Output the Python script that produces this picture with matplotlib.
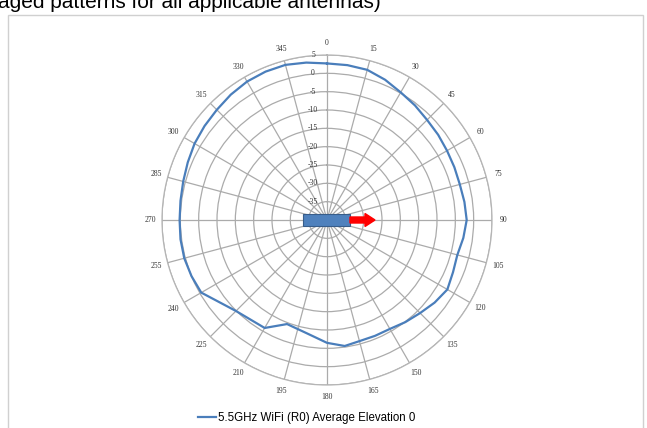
import numpy as np
import matplotlib
matplotlib.use("Agg")
import matplotlib.pyplot as plt
from matplotlib.patches import Rectangle, FancyArrow

# Pattern data (azimuth in degrees, gain in dB)
azimuth = [0, 7.5, 15, 22.5, 30, 37.5, 45, 52.5, 60, 67.5, 75, 82.5, 90, 97.5,
           105, 112.5, 120, 127.5, 135, 142.5, 150, 157.5, 165, 172, 180, 190,
           201, 210, 225, 240, 247.5, 255, 262.5, 270, 277.5, 285, 292.5, 300,
           307.5, 315, 322.5, 330, 337.5, 345, 352.5]
gain_db = [2.7, 2.6, 2.4, 1.4, 0.2, -0.6, -1.4, -1.8, -2.2, -2.4, -2.5, -2.2,
           -1.9, -2.5, -3.2, -2.8, -2.1, -3.0, -4.1, -4.9, -5.7, -5.8, -5.8,
           -5.3, -6.5, -8.6, -9.6, -6.0, -4.9, -0.4, 0.0, 0.3, 0.3, 0.2, 0.3,
           0.6, 1.1, 1.7, 2.1, 2.5, 3.1, 3.6, 3.8, 3.8, 3.3]

angle_ticks = list(range(0, 360, 15))
ring_values = [5, 0, -5, -10, -15, -20, -25, -30, -35]
r_min, r_max = -40, 5

series_name = "5.5GHz WiFi (R0) Average Elevation 0"
header_text = "aged patterns for all applicable antennas)"

W, H = 647, 428
fig = plt.figure(figsize=(W / 100, H / 100), dpi=100)

# header line cut off at the top of the screenshot
fig.text(-2 / W, 1 - 8 / H, header_text, fontsize=15, family="Liberation Sans",
         ha="left", va="baseline", color="black")

# chart frame
fig.patches.append(Rectangle((8 / W, -0.05), 635 / W, 1.05 - 15 / H,
                             transform=fig.transFigure, fill=False,
                             edgecolor="#d0d0d0", lw=1))

# polar area: centre (327, 220) px, radius 165 px
cx, cy, rad = 327, 220, 165
ax = fig.add_axes([(cx - rad) / W, (H - cy - rad) / H, 2 * rad / W, 2 * rad / H],
                  projection="polar")
ax.set_theta_zero_location("N")
ax.set_theta_direction(-1)
ax.set_ylim(r_min, r_max)
ax.set_yticks(ring_values)
ax.set_yticklabels([])
ax.set_xticks(np.deg2rad(angle_ticks))
ax.set_xticklabels([])
ax.grid(True, color="#ababab", lw=0.9)
ax.spines["polar"].set_color("#b5b5b5")
ax.spines["polar"].set_linewidth(0.9)

# angle labels
lab_r = r_max + 12 / rad * (r_max - r_min)
for a in angle_ticks:
    ax.text(np.deg2rad(a), lab_r, str(a), ha="center", va="center",
            fontsize=5.5, family="Liberation Serif", color="#333333", clip_on=False)

# radial labels just left of the 0 deg spoke
for v in ring_values:
    ax.annotate(str(v), xy=(0, v), xytext=(-10, 0), textcoords="offset points",
                ha="center", va="center", fontsize=5.5, family="Liberation Serif",
                color="#333333", annotation_clip=False)

th = np.deg2rad(azimuth + [azimuth[0]])
rr = gain_db + [gain_db[0]]
line, = ax.plot(th, rr, color="#4a7ebb", lw=1.6, label=series_name)

# antenna icon in the middle
ax_frac = lambda px, py: (0.5 + px / (2 * rad), 0.5 - py / (2 * rad))
x0, y0 = ax_frac(-24, 5.5)
ax.add_patch(Rectangle((x0, y0), 47 / (2 * rad), 11 / (2 * rad), transform=ax.transAxes,
                       facecolor="#4f81bd", edgecolor="#385d8a", lw=0.8, zorder=5,
                       clip_on=False))
ax0x, ax0y = ax_frac(23, 0)
ax.add_patch(FancyArrow(ax0x, ax0y, 25 / (2 * rad), 0, width=6 / (2 * rad),
                        head_width=13 / (2 * rad), head_length=10 / (2 * rad),
                        length_includes_head=True, transform=ax.transAxes,
                        color="#ff0000", zorder=5, clip_on=False))

fig.legend(handles=[line], loc="center", bbox_to_anchor=(307 / W, 1 - 418 / H),
           frameon=False, prop={"family": "Liberation Sans", "size": 8.3},
           handlelength=1.5, handletextpad=0.25)

fig.savefig("out.png", dpi=100)
